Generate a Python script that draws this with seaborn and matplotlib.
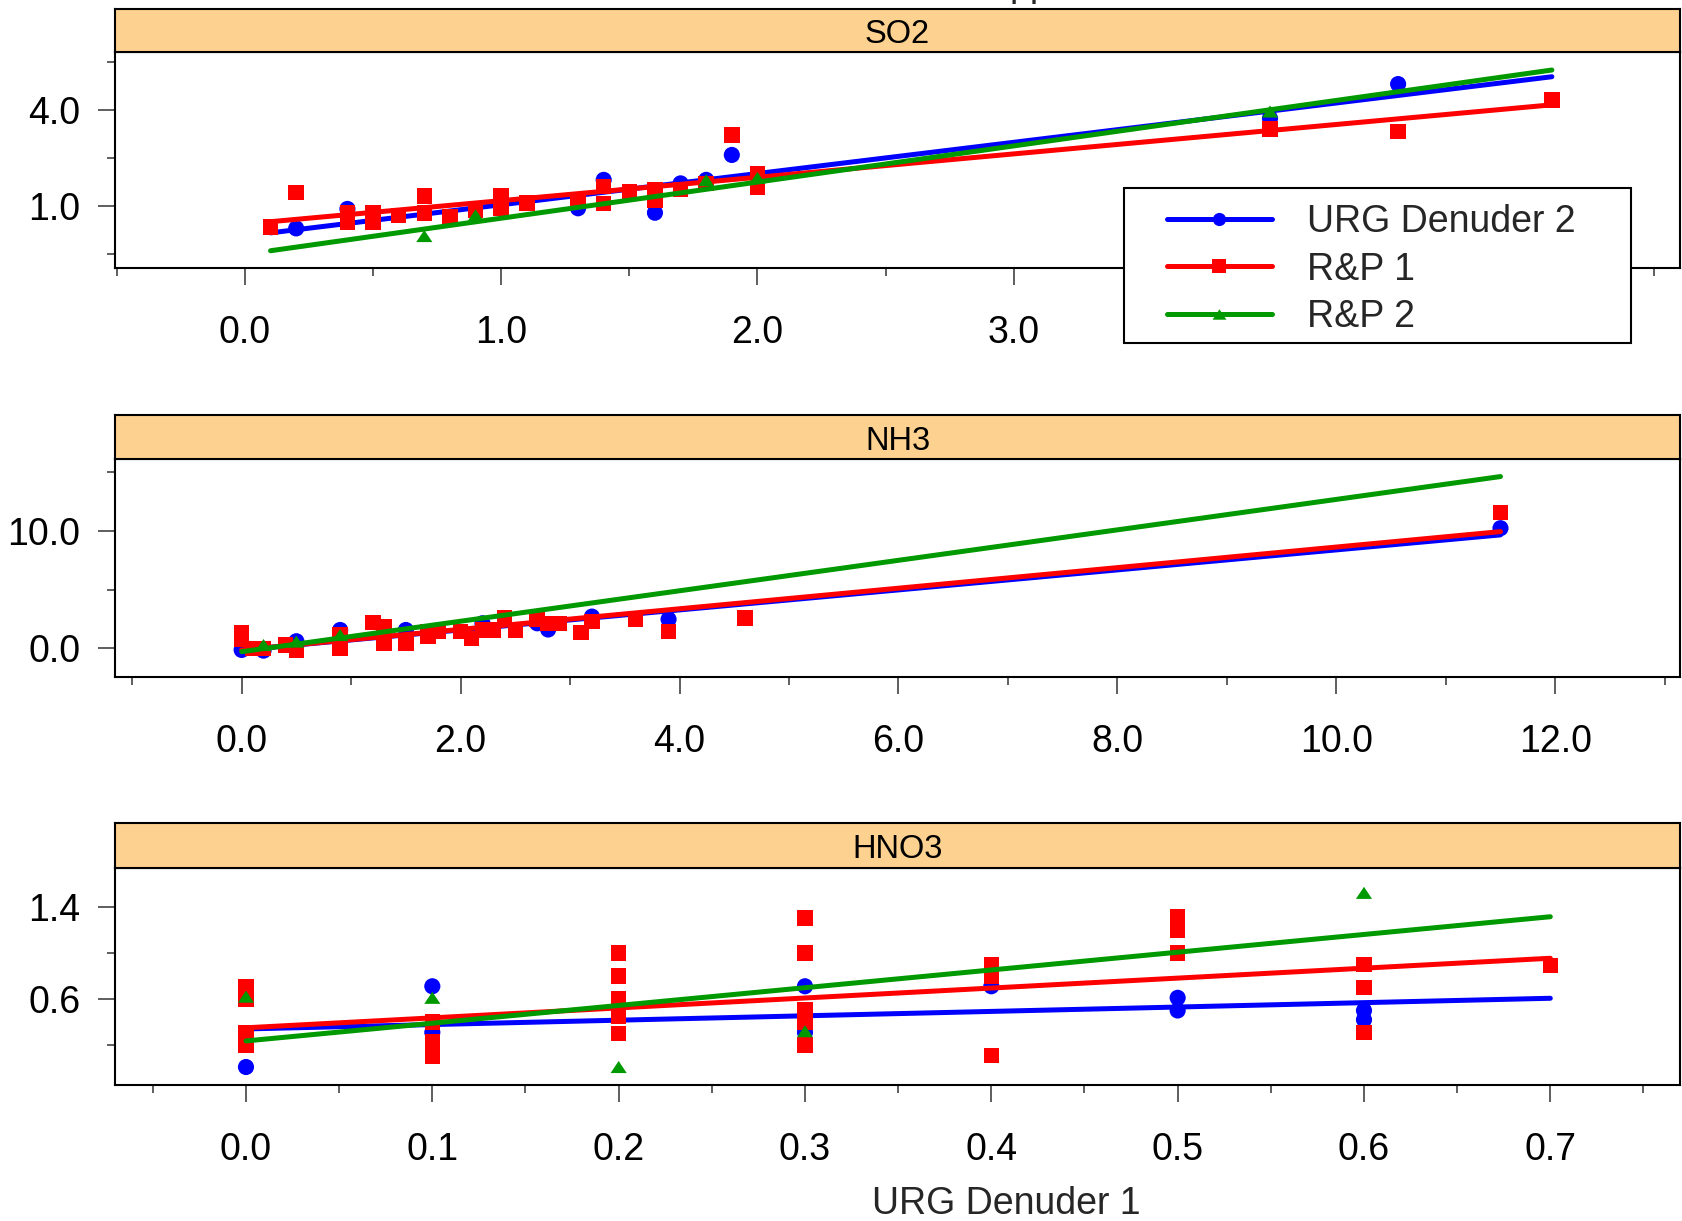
import numpy as np
import pandas as pd
import matplotlib
matplotlib.use("Agg")
import matplotlib.pyplot as plt
from matplotlib.lines import Line2D
from matplotlib.path import Path
from matplotlib.patches import Rectangle
from matplotlib.ticker import FixedLocator, FormatStrFormatter
import seaborn as sns

# ---------------- data ----------------
series_names = ["URG Denuder 2", "R&P 1", "R&P 2"]
panel_names = ["SO2", "NH3", "HNO3"]

# SO2
so2_urg2_x = [0.2, 0.4, 1.3, 1.4, 1.6, 1.7, 1.8, 1.9, 4.0, 4.5]
so2_urg2_y = [0.29, 0.90, 0.92, 1.81, 0.78, 1.70, 1.81, 2.59, 3.74, 4.81]
so2_rp1_x = [0.1, 0.2, 0.4, 0.4, 0.5, 0.5, 0.6, 0.7, 0.7, 0.8, 0.9, 1.0, 1.0, 1.1,
             1.3, 1.4, 1.4, 1.5, 1.6, 1.6, 1.7, 1.8, 1.9, 2.0, 2.0, 4.0, 4.5, 5.1]
so2_rp1_y = [0.34, 1.41, 0.79, 0.48, 0.79, 0.48, 0.70, 1.31, 0.78, 0.64, 0.87, 1.31, 0.93, 1.09,
             1.15, 1.60, 1.07, 1.44, 1.51, 1.16, 1.51, 1.70, 3.22, 1.99, 1.58, 3.40, 3.32, 4.31]
so2_rp2_x = [0.7, 0.9, 1.8, 2.0, 4.0]
so2_rp2_y = [0.05, 0.70, 1.80, 1.87, 3.95]
so2_fit_x = [0.1, 5.1]
so2_fit_urg2 = [0.15, 5.04]
so2_fit_rp1 = [0.50, 4.16]
so2_fit_rp2 = [-0.41, 5.25]

# NH3
nh3_urg2_x = [0.0, 0.2, 0.5, 0.9, 1.5, 2.2, 2.7, 2.8, 3.2, 3.9, 11.5]
nh3_urg2_y = [-0.14, -0.2, 0.6, 1.56, 1.56, 2.13, 2.13, 1.6, 2.7, 2.47, 10.23]
nh3_rp1_x = [0.0, 0.0, 0.1, 0.2, 0.4, 0.5, 0.9, 0.9, 1.2, 1.3, 1.3, 1.5, 1.7, 1.7, 1.8,
             2.0, 2.1, 2.2, 2.3, 2.4, 2.5, 2.7, 2.8, 2.9, 3.1, 3.2, 3.6, 3.9, 4.6, 11.5]
nh3_rp1_y = [1.3, 0.8, 0.0, 0.0, 0.28, -0.14, 1.13, 0.0, 2.21, 1.85, 0.43, 0.43, 1.42, 1.0, 1.42,
             1.42, 0.85, 1.56, 1.56, 2.56, 1.56, 2.47, 2.13, 2.13, 1.33, 2.27, 2.47, 1.42, 2.56, 11.56]
nh3_rp2_x = [0.2, 0.5, 0.9]
nh3_rp2_y = [0.28, 0.57, 1.13]
nh3_fit_x = [0.0, 11.5]
nh3_fit_urg2 = [-0.14, 9.66]
nh3_fit_rp1 = [-0.14, 9.94]
nh3_fit_rp2 = [-0.29, 14.63]

# HNO3
hno3_urg2_x = [0.0, 0.1, 0.1, 0.3, 0.3, 0.4, 0.5, 0.5, 0.6, 0.6]
hno3_urg2_y = [0.01, 0.71, 0.31, 0.71, 0.31, 0.71, 0.61, 0.50, 0.50, 0.42]
hno3_rp1_x = [0.0, 0.0, 0.0, 0.0, 0.1, 0.1, 0.1, 0.2, 0.2, 0.2, 0.2, 0.2,
              0.3, 0.3, 0.3, 0.3, 0.3, 0.4, 0.4, 0.4, 0.5, 0.5, 0.5, 0.6, 0.6, 0.6, 0.7]
hno3_rp1_y = [0.71, 0.60, 0.31, 0.20, 0.40, 0.23, 0.10, 1.00, 0.80, 0.60, 0.45, 0.30,
              1.30, 1.00, 0.51, 0.40, 0.20, 0.90, 0.80, 0.11, 1.31, 1.20, 1.00, 0.90, 0.70, 0.31, 0.89]
hno3_rp2_x = [0.0, 0.1, 0.2, 0.3, 0.6]
hno3_rp2_y = [0.62, 0.61, 0.01, 0.32, 1.52]
hno3_fit_x = [0.0, 0.7]
hno3_fit_urg2 = [0.34, 0.606]
hno3_fit_rp1 = [0.35, 0.953]
hno3_fit_rp2 = [0.236, 1.313]

# axis ticks
so2_xmajor = [0, 1, 2, 3, 4, 5]
so2_xminor = [-0.5, 0.5, 1.5, 2.5, 3.5, 4.5, 5.5]
so2_ymajor = [1.0, 4.0]
so2_yminor = [-0.5, 2.5, 5.5]
nh3_xmajor = [0, 2, 4, 6, 8, 10, 12]
nh3_xminor = [-1, 1, 3, 5, 7, 9, 11, 13]
nh3_ymajor = [0.0, 10.0]
nh3_yminor = [5.0, 15.0]
hno3_xmajor = [0.0, 0.1, 0.2, 0.3, 0.4, 0.5, 0.6, 0.7]
hno3_xminor = [-0.05, 0.05, 0.15, 0.25, 0.35, 0.45, 0.55, 0.65, 0.75]
hno3_ymajor = [0.6, 1.4]
hno3_yminor = [0.2, 1.0]

# ---------------- style ----------------
sns.set_theme(style="white")
plt.rcParams["font.family"] = ["Liberation Sans", "DejaVu Sans"]

W, H = 1683, 1221
fig = plt.figure(figsize=(W / 100, H / 100), dpi=100)
fig.patch.set_facecolor("white")

BLUE, RED, GREEN = "#0000FF", "#FF0000", "#009900"
STRIP = "#FDD190"
tri = Path([(0, 0.75), (-1, -0.75), (1, -0.75), (0, 0.75)],
           [Path.MOVETO, Path.LINETO, Path.LINETO, Path.CLOSEPOLY])
markers = ["o", "s", tri]
colors = [BLUE, RED, GREEN]
sizes = [135, 125, 135]

panels = [
    dict(name="SO2", top=8.6, mid=51.5, bot=268.3,
         pts=[(so2_urg2_x, so2_urg2_y), (so2_rp1_x, so2_rp1_y), (so2_rp2_x, so2_rp2_y)],
         fx=so2_fit_x, fy=[so2_fit_urg2, so2_fit_rp1, so2_fit_rp2],
         xlim=(-0.507, 5.60), ylim=(-0.96, 5.83),
         xt=(so2_xmajor, so2_xminor), yt=(so2_ymajor, so2_yminor)),
    dict(name="NH3", top=415.0, mid=459.3, bot=676.7,
         pts=[(nh3_urg2_x, nh3_urg2_y), (nh3_rp1_x, nh3_rp1_y), (nh3_rp2_x, nh3_rp2_y)],
         fx=nh3_fit_x, fy=[nh3_fit_urg2, nh3_fit_rp1, nh3_fit_rp2],
         xlim=(-1.157, 13.14), ylim=(-2.42, 16.1),
         xt=(nh3_xmajor, nh3_xminor), yt=(nh3_ymajor, nh3_yminor)),
    dict(name="HNO3", top=822.7, mid=867.7, bot=1085.0,
         pts=[(hno3_urg2_x, hno3_urg2_y), (hno3_rp1_x, hno3_rp1_y), (hno3_rp2_x, hno3_rp2_y)],
         fx=hno3_fit_x, fy=[hno3_fit_urg2, hno3_fit_rp1, hno3_fit_rp2],
         xlim=(-0.0703, 0.7696), ylim=(-0.146, 1.738),
         xt=(hno3_xmajor, hno3_xminor), yt=(hno3_ymajor, hno3_yminor)),
]

L_PX, R_PX = 115.0, 1680.0
FS = 27
for p in panels:
    ax = fig.add_axes([L_PX / W, 1 - p["bot"] / H, (R_PX - L_PX) / W, (p["bot"] - p["mid"]) / H])
    sx = fig.add_axes([L_PX / W, 1 - p["mid"] / H, (R_PX - L_PX) / W, (p["mid"] - p["top"]) / H])
    for i in range(3):
        xs, ys = p["pts"][i]
        sns.scatterplot(x=xs, y=ys, ax=ax, color=colors[i], marker=markers[i],
                        s=sizes[i], edgecolor="none", linewidth=0, legend=False,
                        zorder=3 + 2 * i)
        sns.lineplot(x=p["fx"], y=p["fy"][i], ax=ax, color=colors[i], lw=3.6,
                     estimator=None, sort=False, legend=False, zorder=4 + 2 * i)
    ax.set_xlim(*p["xlim"])
    ax.set_ylim(*p["ylim"])
    ax.xaxis.set_major_locator(FixedLocator(p["xt"][0]))
    ax.xaxis.set_minor_locator(FixedLocator(p["xt"][1]))
    ax.yaxis.set_major_locator(FixedLocator(p["yt"][0]))
    ax.yaxis.set_minor_locator(FixedLocator(p["yt"][1]))
    ax.xaxis.set_major_formatter(FormatStrFormatter("%.1f"))
    ax.yaxis.set_major_formatter(FormatStrFormatter("%.1f"))
    ax.tick_params(axis="both", which="major", direction="out", length=12.2, width=1.1,
                   color="#333333", labelsize=FS, labelcolor="black")
    ax.tick_params(axis="both", which="minor", direction="out", length=6.0, width=1.1,
                   color="#333333")
    ax.tick_params(axis="x", which="major", pad=21.5)
    ax.tick_params(axis="y", which="major", pad=12.6)
    ax.tick_params(bottom=True, left=True, which="both")
    ax.set_xlabel("")
    ax.set_ylabel("")
    ax.grid(False)
    ax.set_facecolor("white")
    for s in ax.spines.values():
        s.set_color("black")
        s.set_linewidth(1.5)
    # strip
    sx.set_facecolor(STRIP)
    sx.set_xticks([])
    sx.set_yticks([])
    for s in sx.spines.values():
        s.set_color("black")
        s.set_linewidth(1.5)
    sx.text(0.5, 0.40, p["name"], transform=sx.transAxes, ha="center", va="center",
            fontsize=23.5, color="black")

# legend box and legend
lx0, ly0, lx1, ly1 = 1124.0, 188.0, 1631.0, 343.0
fig.add_artist(Rectangle((lx0 / W, 1 - ly1 / H), (lx1 - lx0) / W, (ly1 - ly0) / H,
                         transform=fig.transFigure, facecolor="white", edgecolor="black",
                         linewidth=1.5, zorder=4))
handles = [Line2D([], [], color=colors[i], lw=3.6, marker=markers[i], markersize=[9.5, 10, 10][i],
                  markeredgewidth=0) for i in range(3)]
leg = fig.legend(handles, series_names, loc="center left",
                 bbox_to_anchor=(1167.0 / W, 1 - ((ly0 + ly1) / 2 + 4.0) / H),
                 frameon=False, fontsize=FS, handlelength=2.8, handletextpad=0.94,
                 labelspacing=0.31, borderpad=0.0, borderaxespad=0.0, numpoints=1)
leg.set_zorder(5)

# x label and (cropped) title
fig.text(1006.8 / W, 1 - 1204.0 / H, "URG Denuder 1", ha="center", va="center", fontsize=FS)
fig.text(1010.0 / W, 1 + 4.0 / H, "ppb", ha="left", va="baseline", fontsize=FS)

fig.savefig("out.png", dpi=100)
